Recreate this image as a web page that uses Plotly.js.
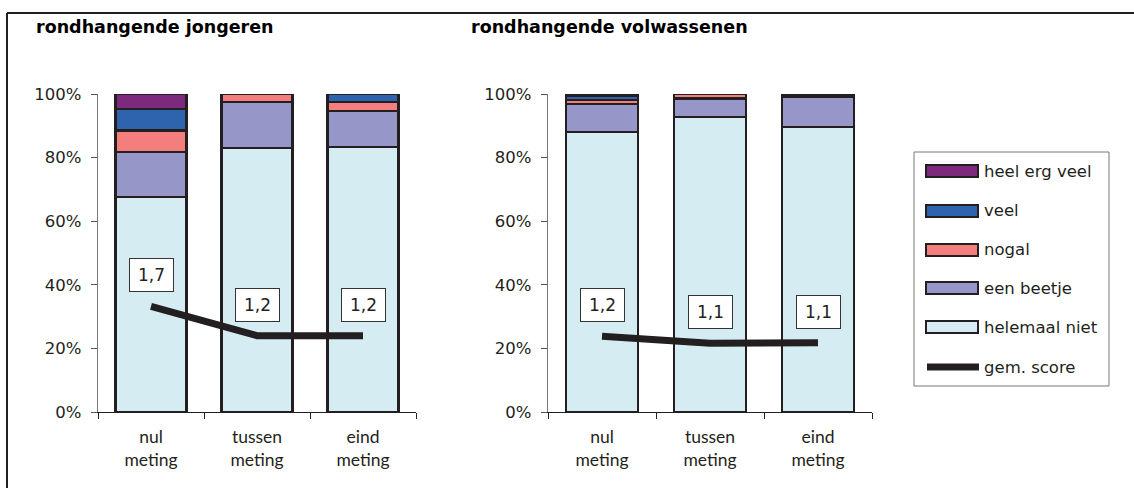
<!DOCTYPE html>
<html>
<head>
<meta charset="utf-8">
<script src="https://cdn.plot.ly/plotly-3.0.1.min.js"></script>
<style>html,body{margin:0;padding:0;background:#fff;}#chart{width:1134px;height:488px;}</style>
</head>
<body>
<div id="chart"></div>
<script>
// ---- data ----
var categories = ["nul<br>meting", "tussen<br>meting", "eind<br>meting"];
var seriesNames = ["helemaal niet", "een beetje", "nogal", "veel", "heel erg veel"];
var seriesColors = ["#D4ECF2", "#9696C8", "#F47E7E", "#2E64AE", "#7D2A7E"];

// rondhangende jongeren (fractions)
var jongHelemaal = [0.676, 0.829, 0.834];
var jongBeetje   = [0.141, 0.147, 0.113];
var jongNogal    = [0.068, 0.024, 0.029];
var jongVeel     = [0.069, 0.000, 0.024];
var jongHeel     = [0.046, 0.000, 0.000];
var jongScore    = [1.66, 1.20, 1.20];

// rondhangende volwassenen (fractions)
var volwHelemaal = [0.881, 0.927, 0.897];
var volwBeetje   = [0.087, 0.059, 0.095];
var volwNogal    = [0.014, 0.014, 0.004];
var volwVeel     = [0.011, 0.000, 0.002];
var volwHeel     = [0.007, 0.000, 0.002];
var volwScore    = [1.19, 1.08, 1.09];

var yTickVals = [0, 0.2, 0.4, 0.6, 0.8, 1.0];
var panelTitles = ["rondhangende jongeren", "rondhangende volwassenen"];
var legendLabels = ["heel erg veel", "veel", "nogal", "een beetje", "helemaal niet", "gem. score"];

// ---- helpers ----
var W = 1134, H = 488;
function px(x){ return x / W; }
function py(y){ return 1 - y / H; }
var FONT = "'DejaVu Sans', sans-serif";
var FONT2 = "Lato, 'DejaVu Sans', sans-serif";
var DARK = "#231F20";

var jong = [jongHelemaal, jongBeetje, jongNogal, jongVeel, jongHeel];
var volw = [volwHelemaal, volwBeetje, volwNogal, volwVeel, volwHeel];

var traces = [];
function addPanel(sets, score, xa, ya, ya2){
  for (var i = 0; i < sets.length; i++){
    traces.push({
      type: "bar", x: categories, y: sets[i], name: seriesNames[i],
      xaxis: xa, yaxis: ya, width: 0.67, showlegend: false,
      marker: {color: seriesColors[i], line: {color: DARK, width: 2.2}},
      hoverinfo: "skip"
    });
  }
  traces.push({
    type: "scatter", mode: "lines", x: categories, y: score, name: "gem. score",
    xaxis: xa, yaxis: ya2, showlegend: false,
    line: {color: DARK, width: 7}, hoverinfo: "skip"
  });
}
addPanel(jong, jongScore, "x", "y", "y2");
addPanel(volw, volwScore, "x2", "y3", "y4");

function fmt(v){ return v.toFixed(1).replace(".", ","); }

var annotations = [];
function addLabels(score, xa, ya2){
  for (var i = 0; i < score.length; i++){
    annotations.push({
      x: categories[i], y: score[i], xref: xa, yref: ya2,
      text: fmt(score[i]), showarrow: false, yshift: 31,
      width: 31, height: 20,
      font: {family: FONT, size: 17, color: DARK},
      bgcolor: "#FFFFFF", bordercolor: "#333333", borderwidth: 1, borderpad: 6
    });
  }
}
addLabels(jongScore, "x", "y2");
addLabels(volwScore, "x2", "y4");

annotations.push({xref:"paper", yref:"paper", x: px(34), y: py(27), xanchor:"left", yanchor:"middle",
  text: "<b>" + panelTitles[0] + "</b>", showarrow:false, font:{family: FONT, size: 17.5, color: "#000"}});
annotations.push({xref:"paper", yref:"paper", x: px(469), y: py(27), xanchor:"left", yanchor:"middle",
  text: "<b>" + panelTitles[1] + "</b>", showarrow:false, font:{family: FONT, size: 17.5, color: "#000"}});

// frame and custom legend
var shapes = [
  {type:"line", xref:"paper", yref:"paper", x0: px(7), x1: 1, y0: py(13), y1: py(13), line:{color: DARK, width: 2}},
  {type:"line", xref:"paper", yref:"paper", x0: px(7), x1: px(7), y0: py(13), y1: 0, line:{color: DARK, width: 2}},
  {type:"rect", xref:"paper", yref:"paper", x0: px(914), x1: px(1109), y0: py(152), y1: py(386), line:{color:"#777", width:1}, fillcolor:"rgba(0,0,0,0)"}
];
var legendY = [171, 211, 250, 288, 327, 367];
var legendColors = [seriesColors[4], seriesColors[3], seriesColors[2], seriesColors[1], seriesColors[0]];
for (var k = 0; k < 5; k++){
  shapes.push({type:"rect", xref:"paper", yref:"paper", x0: px(926), x1: px(978),
    y0: py(legendY[k] - 6), y1: py(legendY[k] + 6), fillcolor: legendColors[k], line:{color: DARK, width: 2}});
}
shapes.push({type:"line", xref:"paper", yref:"paper", x0: px(927), x1: px(979), y0: py(legendY[5]), y1: py(legendY[5]), line:{color: DARK, width: 7}});
for (var k = 0; k < 6; k++){
  annotations.push({xref:"paper", yref:"paper", x: px(982), y: py(legendY[k]), xanchor:"left", yanchor:"middle",
    text: legendLabels[k], showarrow:false, font:{family: FONT, size: 16.5, color: DARK}});
}

var yDom = [py(412), py(94)];
function xAxis(dom, anchor){
  return {domain: dom, anchor: anchor, type: "category", range: [-0.5, 2.5],
    showline: true, linecolor: DARK, linewidth: 1.2, ticks: "outside", tickson: "boundaries",
    ticklen: 6, tickcolor: DARK, tickwidth: 1, showgrid: false, zeroline: false, fixedrange: true,
    ticklabelstandoff: 9,
    tickfont: {family: FONT2, size: 17.5, color: DARK}};
}
function yAxis(anchor){
  return {domain: yDom, anchor: anchor, range: [0, 1], tickvals: yTickVals, tickformat: ".0%",
    showline: true, linecolor: "#777", linewidth: 1.2, ticks: "outside", ticklen: 6, tickcolor: "#555",
    showgrid: false, zeroline: false, fixedrange: true, ticklabelstandoff: 6,
    tickfont: {family: FONT, size: 16.5, color: DARK}};
}
function yOver(over, anchor){
  return {domain: yDom, overlaying: over, anchor: anchor, range: [0, 5], visible: false, fixedrange: true};
}

var layout = {
  width: W, height: H, margin: {l:0, r:0, t:0, b:0},
  paper_bgcolor: "#fff", plot_bgcolor: "rgba(0,0,0,0)",
  barmode: "stack", showlegend: false,
  font: {family: FONT},
  xaxis: xAxis([px(98), px(416)], "y"),
  yaxis: yAxis("x"),
  yaxis2: yOver("y", "x"),
  xaxis2: xAxis([px(548), px(872)], "y3"),
  yaxis3: yAxis("x2"),
  yaxis4: yOver("y3", "x2"),
  annotations: annotations,
  shapes: shapes
};

Plotly.newPlot("chart", traces, layout, {staticPlot: true});
</script>
</body>
</html>
